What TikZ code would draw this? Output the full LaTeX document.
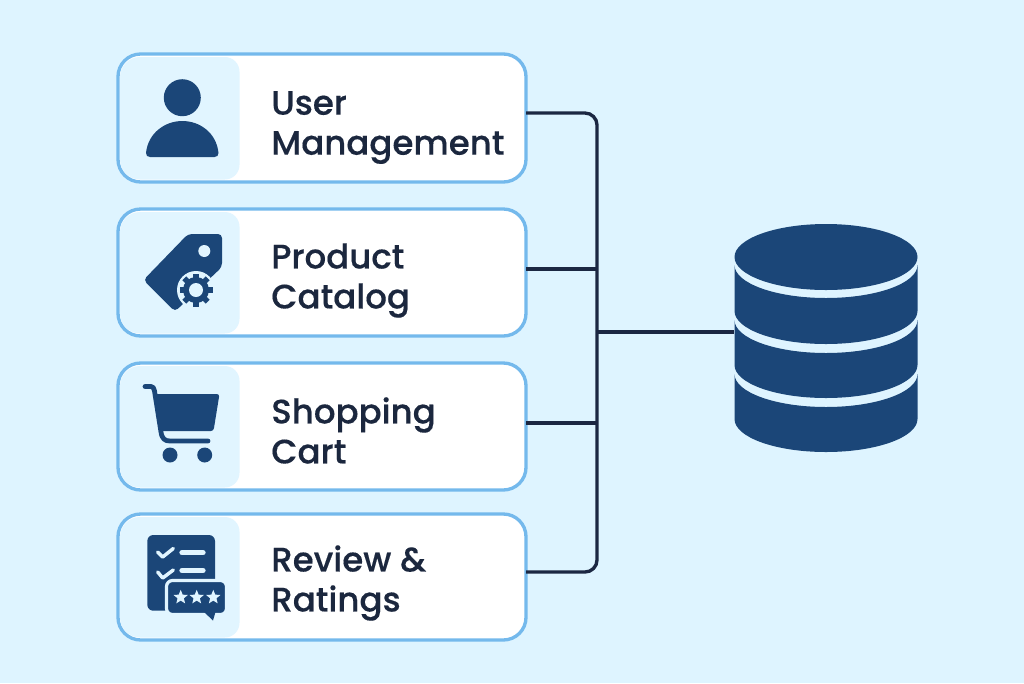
\documentclass[tikz,border=0pt]{standalone}
\usepackage{fontspec}
\setmainfont{Poppins}
\newfontfamily\labelfont{Poppins Medium}[FakeBold=0.3]
\definecolor{pagebg}{RGB}{222,244,255}
\definecolor{panelbg}{RGB}{225,245,255}
\definecolor{boxline}{RGB}{116,185,236}
\definecolor{wire}{RGB}{27,39,66}
\definecolor{icon}{RGB}{27,70,120}
\definecolor{labeltext}{RGB}{27,39,62}
\tikzset{
  box/.style={draw=boxline, line width=2.5pt, fill=white, rounded corners=17pt,
    minimum width=306pt, minimum height=#1, inner sep=0pt, outer sep=0pt},
  lab/.style={anchor=west, align=left, text=labeltext, inner sep=0pt,
    font=\labelfont\fontsize{25.5}{30}\selectfont},
  wireline/.style={draw=wire, line width=2.5pt},
  thinlight/.style={draw=panelbg, line width=2.6pt, line cap=round, line join=round},
}
% five pointed star for the rating bubble
\newcommand{\ratingstar}[2]{\fill[panelbg, shift={(#1,#2)}]
  (-90:7.5) -- (-54:3.3) -- (-18:7.5) -- (18:3.3) -- (54:7.5) -- (90:3.3)
  -- (126:7.5) -- (162:3.3) -- (198:7.5) -- (234:3.3) -- cycle;}
\begin{document}
\begin{tikzpicture}[x=0.75pt,y=-0.75pt]
  \useasboundingbox (0,0) rectangle (1024,683);
  \fill[pagebg] (0,0) rectangle (1024,683);

  % boxes
  \node[box=96pt]  (user)    at (322,118)   {};
  \node[box=95.25pt] (product) at (322,272.5) {};
  \node[box=95.25pt] (cart)    at (322,426.5) {};
  \node[box=94.5pt]  (review)  at (322,577)   {};

  % left panels
  \foreach \t/\b in {57/179.5, 212/333.5, 366/487.5, 517/637.5} {
    \fill[panelbg] (180,\t) [rounded corners=11pt] -- (239.5,\t) -- (239.5,\b)
      -- (180,\b) [rounded corners=15pt] -- (120,\b) -- (120,\t) -- cycle;
  }

  % labels
  \node[lab] (userlab)    at (271,127.5) {User\\Management};
  \node[lab] (productlab) at (271,280.5) {Product\\Catalog};
  \node[lab] (cartlab)    at (271,430.5) {Shopping\\Cart};
  \node[lab] (reviewlab)  at (271,583)   {Review \&\\Ratings};

  % database
  \node[minimum width=137.25pt, minimum height=171pt, inner sep=0pt] (db) at (826,338.5) {};
  \fill[icon] (826,257) ellipse [x radius=91.5, y radius=33];
  \foreach \a/\b in {265/311, 320/365, 374/419} {
    \fill[icon] (734.5,\a) arc[start angle=180, end angle=0, x radius=91.5, y radius=33]
      -- (917.5,\b) arc[start angle=0, end angle=180, x radius=91.5, y radius=33] -- cycle;
  }

  % connectors, the wires leave the boxes a little above their middle
  \coordinate (trunk) at (597,332);
  \draw[wireline, rounded corners=9pt] ([yshift=3.75pt]user.east) -| (trunk) |- ([yshift=3.75pt]review.east);
  \draw[wireline] ([yshift=2.6pt]product.east) -- ([yshift=2.6pt]product.east -| trunk);
  \draw[wireline] ([yshift=2.6pt]cart.east) -- ([yshift=2.6pt]cart.east -| trunk);
  \draw[wireline] (trunk) -- (trunk -| db.west);

  % user icon
  \fill[icon] (182.3,97.7) circle (18.5);
  \fill[icon] (150,157) .. controls (147.5,157) and (146,155.5) .. (146,153)
    .. controls (148,133) and (165,121) .. (182.3,121)
    .. controls (200,121) and (216.5,133) .. (218.5,153)
    .. controls (218.5,155.5) and (217,157) .. (214.5,157) -- cycle;

  % tag icon with gear
  \fill[icon, rounded corners=3pt] (188,234) -- (222,234) -- (222,267) -- (175,311.5) -- (143.5,280) -- cycle;
  \fill[panelbg] (204.3,251) circle (6);
  \begin{scope}[shift={(196,290)}]
    \fill[panelbg] (0,0) circle (19);
    \foreach \a in {0,45,...,315} {
      \fill[icon, rotate=\a] (-2.8,-16.5) rectangle (2.8,0);
    }
    \fill[icon] (0,0) circle (13);
    \fill[panelbg] (0,0) circle (7);
  \end{scope}

  % cart icon
  \fill[icon, rounded corners=2pt] (154,394) -- (219.5,394) -- (213.5,431) -- (160,431) -- cycle;
  \draw[icon, line width=3.6pt, line cap=round, line join=round]
    (145,386.5) -- (151,386.5) .. controls (153,386.5) and (154,388) .. (154.5,391)
    -- (161,432) .. controls (162,439) and (165,441) .. (170,441) -- (208,441);
  \fill[icon] (170,455) circle (7.5);
  \fill[icon] (204.7,455) circle (7.5);

  % review icon
  \fill[icon, rounded corners=4.5pt] (147.3,535) rectangle (215,610.7);
  \draw[thinlight] (157.7,552) -- (162.7,557) -- (173.3,548.5);
  \draw[thinlight] (157.7,572) -- (162.7,578) -- (173.3,570);
  \draw[panelbg, line width=4pt, line cap=round] (182,552.7) -- (203,552.7);
  \draw[panelbg, line width=4pt, line cap=round] (182,570.5) -- (203,570.5);
  \fill[icon, rounded corners=4.5pt, draw=panelbg, line width=2.4pt]
    (166.5,580.5) rectangle (226.5,614.5);
  \fill[icon] (204,612) -- (213,620.5) -- (215.5,612) -- cycle;
  \ratingstar{180.7}{597.3}
  \ratingstar{196.7}{597.3}
  \ratingstar{213.3}{597.3}
\end{tikzpicture}
\end{document}
